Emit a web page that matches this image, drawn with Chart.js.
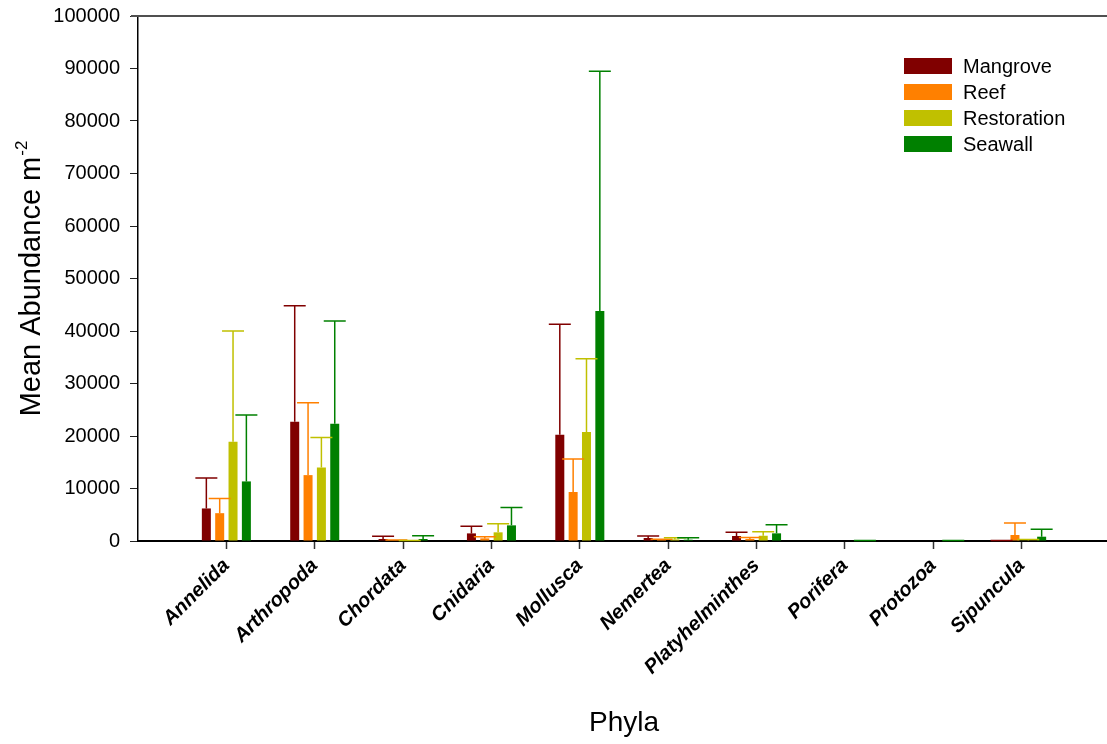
<!DOCTYPE html>
<html>
<head>
<meta charset="utf-8">
<title>Mean Abundance by Phyla</title>
<script src="https://cdn.jsdelivr.net/npm/chart.js@4/dist/chart.umd.min.js"></script>
<style>
  html, body { margin: 0; padding: 0; background: #fff; overflow: hidden; }
  #wrap { width: 1107px; height: 744px; overflow: hidden; }
  canvas { display: block; }
</style>
</head>
<body>
<div id="wrap"><canvas id="chart" width="1130" height="744"></canvas></div>
<script>
// Phyla on the x axis
const phyla = ['Annelida', 'Arthropoda', 'Chordata', 'Cnidaria', 'Mollusca',
               'Nemertea', 'Platyhelminthes', 'Porifera', 'Protozoa', 'Sipuncula'];

// Mean abundance per m^2 for each habitat, with the upper error (SE) for each mean
const mangrove       = [6200, 22700, 380, 1450, 20250, 570, 950, 0, 0, 40];
const mangroveErr    = [5800, 22100, 520, 1350, 21050, 380, 700, 0, 0, 60];
const reef           = [5300, 12550, 100, 500, 9330, 250, 400, 0, 0, 1140];
const reefErr        = [2800, 13800, 100, 300, 6270, 100, 250, 0, 0, 2300];
const restoration    = [18900, 14000, 50, 1650, 20750, 300, 1000, 0, 0, 100];
const restorationErr = [21100, 5700, 50, 1650, 13950, 330, 780, 0, 0, 200];
const seawall        = [11350, 22350, 380, 2980, 43800, 250, 1460, 20, 20, 820];
const seawallErr     = [12650, 19550, 620, 3420, 45700, 380, 1640, 60, 60, 1400];

// y axis tick values
const yTicks = [0, 10000, 20000, 30000, 40000, 50000, 60000, 70000, 80000, 90000, 100000];

const FONT = '"Liberation Sans", Arial, Helvetica, sans-serif';

// The category axis runs one empty slot before the first phylum and half a slot past the last
const pad = arr => [null, ...arr, null];
const labels = ['', ...phyla, ''];

const series = [
  { label: 'Mangrove',    data: mangrove,    err: mangroveErr,    color: '#800000' },
  { label: 'Reef',        data: reef,        err: reefErr,        color: '#FF8000' },
  { label: 'Restoration', data: restoration, err: restorationErr, color: '#C0C000' },
  { label: 'Seawall',     data: seawall,     err: seawallErr,     color: '#008000' }
];

// Upward error bars with caps
const errorBars = {
  id: 'errorBars',
  afterDatasetsDraw(chart) {
    const ctx = chart.ctx;
    const yScale = chart.scales.y;
    chart.data.datasets.forEach((ds, i) => {
      const meta = chart.getDatasetMeta(i);
      ds.errors.forEach((e, j) => {
        const v = ds.data[j];
        if (v === null || !e) return;
        const bar = meta.data[j];
        const x = bar.x;
        const y0 = yScale.getPixelForValue(v);
        const y1 = yScale.getPixelForValue(v + e);
        ctx.save();
        ctx.strokeStyle = ds.backgroundColor;
        ctx.lineWidth = 1.5;
        ctx.beginPath();
        ctx.moveTo(x, y0);
        ctx.lineTo(x, y1);
        ctx.moveTo(x - 11, y1);
        ctx.lineTo(x + 11, y1);
        ctx.stroke();
        ctx.restore();
      });
    });
  }
};

// Frame line along the top, y axis title with superscript, and the legend
const decorations = {
  id: 'decorations',
  afterDraw(chart) {
    const ctx = chart.ctx;
    const area = chart.chartArea;
    ctx.save();

    // top frame line
    ctx.strokeStyle = '#505050';
    ctx.lineWidth = 2;
    ctx.beginPath();
    ctx.moveTo(area.left - 7, area.top);
    ctx.lineTo(chart.width, area.top);
    ctx.stroke();

    // y axis title: "Mean Abundance m" with superscript "-2"
    const main = 'Mean Abundance m';
    const sup = '-2';
    ctx.fillStyle = '#000';
    ctx.font = '29px ' + FONT;
    const wMain = ctx.measureText(main).width;
    ctx.font = '17px ' + FONT;
    const wSup = ctx.measureText(sup).width;
    const total = wMain + wSup + 1;
    const cy = (area.top + area.bottom) / 2;
    ctx.translate(40, cy);
    ctx.rotate(-Math.PI / 2);
    ctx.textAlign = 'left';
    ctx.textBaseline = 'alphabetic';
    ctx.font = '29px ' + FONT;
    ctx.fillText(main, -total / 2, 0);
    ctx.font = '17px ' + FONT;
    ctx.fillText(sup, -total / 2 + wMain + 1, -13);
    ctx.setTransform(1, 0, 0, 1, 0, 0);

    // legend
    const lx = 904, ly = 66, step = 26;
    chart.data.datasets.forEach((ds, i) => {
      const yc = ly + i * step;
      ctx.fillStyle = ds.backgroundColor;
      ctx.fillRect(lx, yc - 8, 48, 16);
      ctx.fillStyle = '#000';
      ctx.font = '20px ' + FONT;
      ctx.textAlign = 'left';
      ctx.textBaseline = 'middle';
      ctx.fillText(ds.label, lx + 59, yc + 1);
    });
    ctx.restore();
  }
};

new Chart(document.getElementById('chart'), {
  type: 'bar',
  data: {
    labels: labels,
    datasets: series.map(s => ({
      label: s.label,
      data: pad(s.data),
      errors: pad(s.err),
      backgroundColor: s.color,
      borderWidth: 0,
      categoryPercentage: 0.604,
      barPercentage: 0.675
    }))
  },
  options: {
    responsive: false,
    animation: false,
    devicePixelRatio: 1,
    layout: { padding: { top: 16, left: 0, right: 20, bottom: 0 } },
    plugins: {
      legend: { display: false },
      tooltip: { enabled: false }
    },
    scales: {
      x: {
        type: 'category',
        offset: false,
        grid: {
          display: true,
          offset: false,
          drawOnChartArea: false,
          drawTicks: true,
          tickLength: 8,
          tickWidth: 1.5,
          tickColor: c => (c.tick && c.tick.label !== '' ? '#333' : 'rgba(0,0,0,0)')
        },
        border: { display: true, color: '#000', width: 2 },
        ticks: {
          autoSkip: false,
          maxRotation: 45,
          minRotation: 45,
          padding: 5,
          color: '#000',
          font: { family: FONT, size: 20, weight: 'bold', style: 'italic' }
        },
        title: {
          display: true,
          text: 'Phyla',
          color: '#000',
          font: { family: FONT, size: 28 },
          padding: { top: 0, bottom: 4 }
        },
        afterFit: s => { s.height = 203; s.paddingLeft = 0; s.paddingRight = 0; }
      },
      y: {
        min: 0,
        max: 100000,
        afterBuildTicks: s => { s.ticks = yTicks.map(v => ({ value: v })); },
        grid: {
          display: true,
          drawOnChartArea: false,
          drawTicks: true,
          tickLength: 8,
          tickColor: '#222',
          tickWidth: 1
        },
        border: { display: true, color: '#000', width: 1.5 },
        ticks: {
          padding: 10,
          color: '#000',
          font: { family: FONT, size: 20 },
          callback: v => String(v)
        },
        afterFit: s => { s.width = 138; s.paddingTop = 0; s.paddingBottom = 0; }
      }
    }
  },
  plugins: [errorBars, decorations]
});
</script>
</body>
</html>
